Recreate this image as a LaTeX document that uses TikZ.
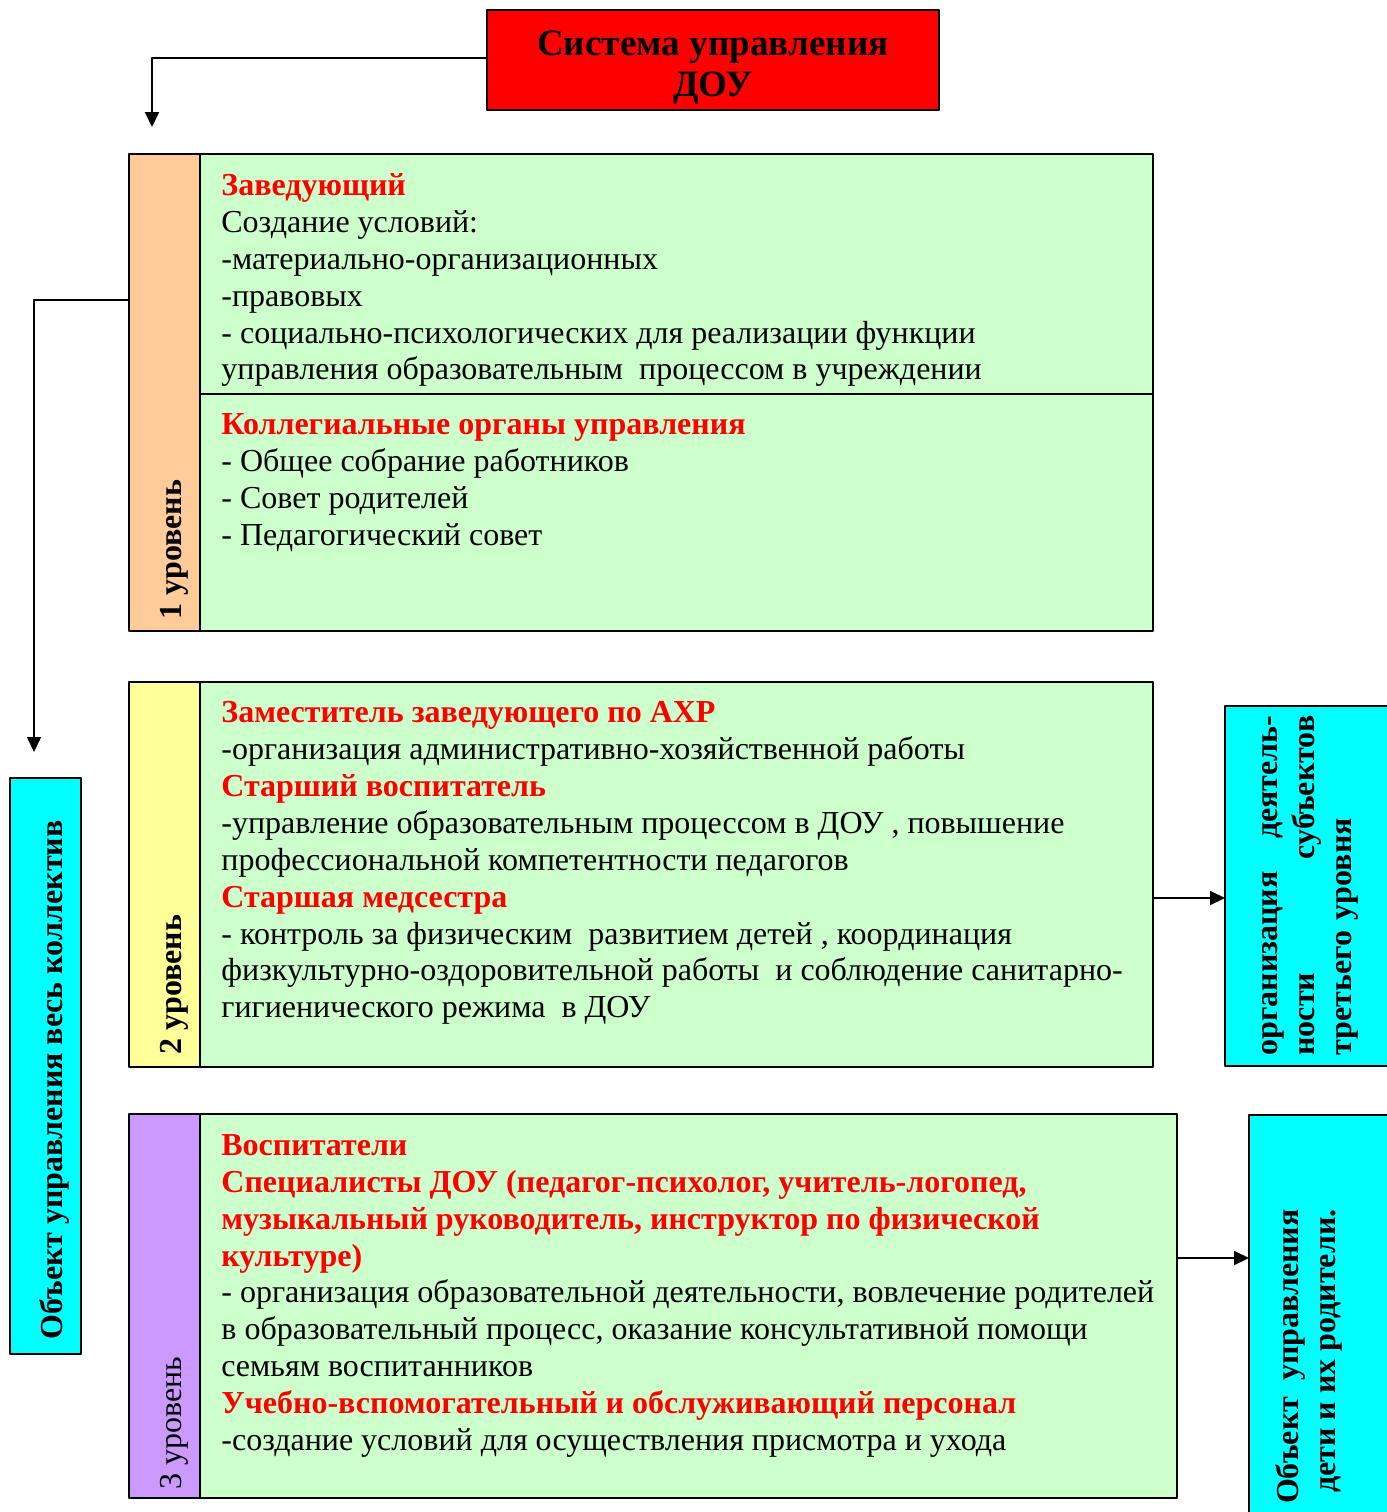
\documentclass[tikz,border=0pt]{standalone}
\usepackage{fontspec}
\setmainfont{Liberation Serif}
\usetikzlibrary{arrows.meta}
\definecolor{lgreen}{HTML}{CCFFCC}
\definecolor{lorange}{HTML}{FFCC99}
\definecolor{lyellow}{HTML}{FFFF99}
\definecolor{lviolet}{HTML}{CC99FF}
\definecolor{lcyan}{HTML}{00FFFF}
\definecolor{tred}{HTML}{FF0000}
\newcommand\hd[1]{\textcolor{tred}{\textbf{#1}}}
\newcommand\bodyfont{\fontsize{16}{18.45}\selectfont}
\tikzset{
  box/.style={draw, line width=1pt, inner sep=0pt, outer sep=0pt},
  txt/.style={anchor=north west, inner sep=0pt, align=left, font=\bodyfont, execute at begin node=\strut},
  lvl/.style={rotate=90, anchor=base west, inner sep=0pt, font=\bodyfont},
  conn/.style={line width=1pt, -{Triangle[length=7.5pt,width=7pt]}},
}
\begin{document}
\begin{tikzpicture}[x=0.5pt, y=-0.5pt, line join=round]
\useasboundingbox (0,0) rectangle (1387,1512);
\clip (0,0) rectangle (1387,1512);
% boxes
\foreach \n/\xa/\ya/\xb/\yb/\col in {g1/200/154/1153/631/lgreen, l1/129/154/200/631/lorange,
  g2/200/682/1153/1067/lgreen, l2/129/682/200/1067/lyellow,
  g3/200/1114/1177/1498/lgreen, l3/129/1114/200/1498/lviolet,
  obj/10/778/81/1354/lcyan, sub/1225/706/1400/1066/lcyan, chl/1249/1115/1400/1530/lcyan}
  \node[box, fill=\col, minimum width={(\xb-\xa)*0.5pt}, minimum height={(\yb-\ya)*0.5pt}] (\n) at ({(\xa+\xb)/2},{(\ya+\yb)/2}) {};
\node[box, fill=red, minimum width=226pt, minimum height=50pt] (sys) at (713,60) {};
\node[align=center, inner sep=0pt, font=\fontsize{18.6}{20.5}\selectfont\bfseries] (syst) at ([yshift=-4pt]sys.center) {Система управления\\ДОУ};
\draw[line width=1pt] (g1.west |- 0,394) -- (g1.east |- 0,394);
% texts
\node[txt] (t1a) at (221,173) {\hd{Заведующий}\\Создание условий:\\-материально-организационных\\-правовых\\- социально-психологических для реализации функции\\управления образовательным \ процессом в учреждении};
\node[txt] (t1b) at (221,413) {\hd{Коллегиальные органы управления}\\- Общее собрание работников\\- Совет родителей\\- Педагогический совет};
\node[txt] (t2) at (221,701) {\hd{Заместитель заведующего по АХР}\\-организация административно-хозяйственной работы\\\hd{Старший воспитатель}\\-управление образовательным процессом в ДОУ , повышение\\профессиональной компетентности педагогов\\\hd{Старшая медсестра}\\- контроль за физическим \ развитием детей , координация\\физкультурно-оздоровительной работы \ и соблюдение санитарно-\\гигиенического режима \ в ДОУ};
\node[txt] (t3) at (221,1134) {\hd{Воспитатели}\\\hd{Специалисты ДОУ (педагог-психолог, учитель-логопед,}\\\hd{музыкальный руководитель, инструктор по физической}\\\hd{культуре)}\\- организация образовательной деятельности, вовлечение родителей\\в образовательный процесс, оказание консультативной помощи\\семьям воспитанников\\\hd{Учебно-вспомогательный и обслуживающий персонал}\\-создание условий для осуществления присмотра и ухода};
\node[lvl, font=\bodyfont\bfseries] (n1) at (181,620) {1 уровень};
\node[lvl, font=\bodyfont\bfseries] (n2) at (181,1055) {2 уровень};
\node[lvl] (n3) at (181,1490) {3 уровень};
\node[lvl, font=\bodyfont\bfseries] (objt) at (62,1340) {Объект управления весь коллектив};
\node[txt, rotate=90, text width=170pt, font=\bodyfont\bfseries] (subt) at (1251,1056) {организация\hfill деятель-\\ности\hfill субъектов\\третьего уровня};
\node[txt, rotate=90, anchor=north east, align=right, font=\bodyfont\bfseries] (chlt) at (1275,1209) {Объект \ управления\\дети и их родители.};
% connectors
\coordinate (c1) at (152,127);
\coordinate (c2) at (34,752);
\draw[conn] (sys.west |- 0,58) -| (c1);
\draw[conn, line width=0.8pt] (l1.west |- 0,300) -| (c2);
\draw[conn] (g2.east |- 0,898) -- (sub.west |- 0,898);
\draw[conn] (g3.east |- 0,1258) -- (chl.west |- 0,1258);
\end{tikzpicture}
\end{document}
